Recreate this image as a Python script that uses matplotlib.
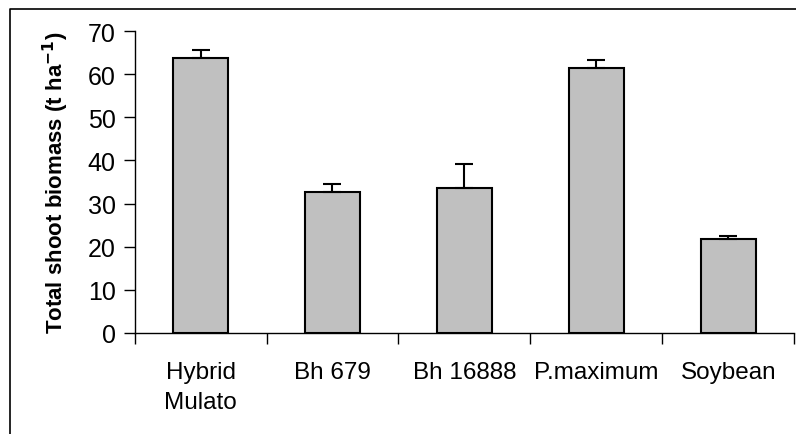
import numpy as np
import matplotlib
matplotlib.use("Agg")
import matplotlib.pyplot as plt
from matplotlib.lines import Line2D

# dati
cultivar = ["Hybrid\nMulato", "Bh 679", "Bh 16888", "P.maximum", "Soybean"]
biomassa = [63.8, 32.6, 33.7, 61.4, 21.7]
errore = [1.9, 2.0, 5.4, 1.8, 0.8]

plt.rcParams['font.family'] = ['Liberation Sans', 'DejaVu Sans']

fig = plt.figure(figsize=(7.96, 4.35), dpi=100)
ax = fig.add_axes([0.169, 0.2322, 0.829, 0.6942])

x = np.arange(len(cultivar))
ax.bar(x, biomassa, width=0.415, color="#c0c0c0", edgecolor="black", linewidth=1.5,
       yerr=[np.zeros(len(errore)), errore],
       error_kw=dict(ecolor="black", elinewidth=1.5, capsize=6.5, capthick=1.5))

ax.set_xlim(-0.5, len(cultivar) - 0.5)
ax.set_ylim(0, 70)
ax.set_yticks(np.arange(0, 71, 10))

# tacche ai bordi delle categorie, etichette al centro
ax.set_xticks(np.arange(-0.5, len(cultivar), 1))
ax.set_xticklabels([])
ax.set_xticks(x, minor=True)
ax.set_xticklabels(cultivar, minor=True, fontsize=17.5, linespacing=1.5)
ax.tick_params(axis="x", which="major", direction="out", length=8, width=1)
ax.tick_params(axis="x", which="minor", length=0, pad=20)
ax.tick_params(axis="y", direction="out", length=8, width=1, labelsize=18, pad=5.5)

ax.spines["top"].set_visible(False)
ax.spines["right"].set_visible(False)
ax.spines["left"].set_linewidth(1)
ax.spines["bottom"].set_linewidth(1)

ax.set_ylabel("Total shoot biomass (t ha$^{\\mathbf{-1}}$)", fontsize=16, fontweight="bold", labelpad=12)

# cornice esterna
fig.add_artist(Line2D([10/796, 10/796, 1.0], [0.0, 1 - 9.5/435, 1 - 9.5/435],
                      transform=fig.transFigure, color="black", linewidth=1.2))

fig.savefig("out.png", dpi=100)
